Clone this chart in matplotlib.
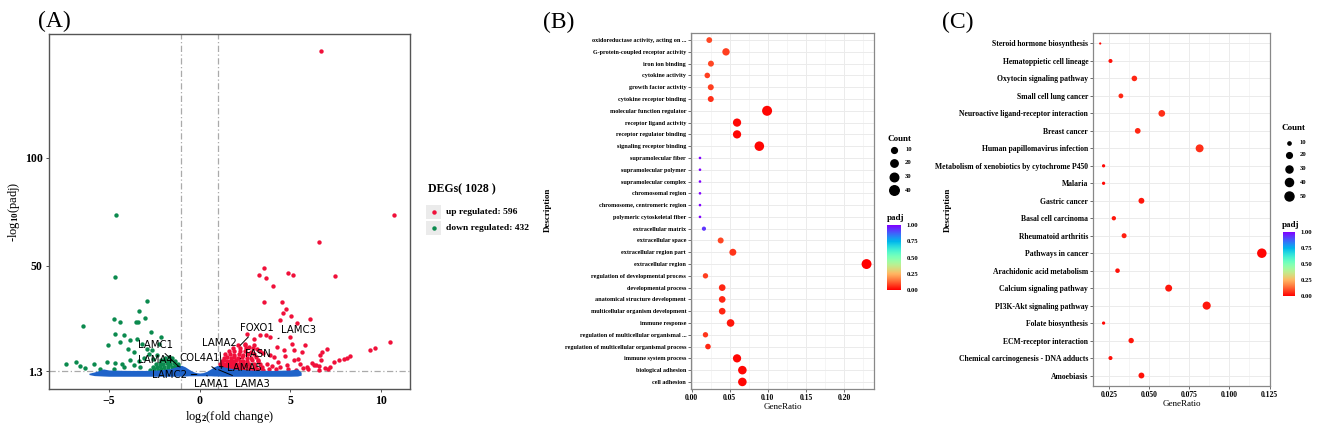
import matplotlib
matplotlib.use("Agg")
import matplotlib as mpl
import matplotlib.pyplot as plt
from matplotlib.colors import Normalize
from matplotlib.patches import Rectangle

plt.rcParams["font.family"] = "serif"
plt.rcParams["font.serif"] = ["Liberation Serif", "DejaVu Serif"]
plt.rcParams["font.weight"] = "bold"
plt.rcParams["mathtext.fontset"] = "custom"
plt.rcParams["mathtext.rm"] = "Liberation Serif:bold"
plt.rcParams["mathtext.default"] = "rm"

# ---------------- (A) volcano data ----------------
up_x = [6.71, 10.74, 6.56, 7.48, 3.55, 3.29, 3.66, 4.85, 5.15, 4.03, 3.57, 4.52, 4.78, 4.60,
        5.06, 4.45, 6.08, 5.35, 10.51, 9.69, 9.38, 8.31, 8.13, 7.94, 7.67, 7.39, 7.02, 6.75,
        6.65, 6.71, 6.29, 6.56, 5.83, 5.64, 5.18, 5.00, 5.09, 4.63, 3.90, 3.68, 4.26, 4.08,
        5.18, 5.55, 5.92, 4.82, 4.45, 3.35, 2.98, 2.61, 3.16, 2.70, 2.52,
        6.90, 7.20, 6.00, 5.70, 5.30, 4.90, 4.20, 4.00, 3.70, 3.40, 4.30, 3.90, 3.50, 3.20,
        4.70, 5.40, 6.20, 6.40, 7.10, 6.60,
        1.05, 1.22, 1.36, 1.52, 1.63, 1.81, 1.96, 2.12, 2.28, 2.49, 2.72, 2.93, 3.18, 3.52, 3.81,
        1.10, 1.27, 1.41, 1.56, 1.72, 1.86, 2.03, 2.17, 2.36, 2.57, 2.79, 3.06, 3.42,
        1.14, 1.31, 1.44, 1.62, 1.77, 1.92, 2.06, 2.24, 2.46, 2.71, 3.02, 3.31,
        1.21, 1.36, 1.52, 1.69, 1.84, 2.01, 2.21, 2.42, 2.63, 2.91, 3.22,
        1.32, 1.49, 1.71, 1.88, 2.11, 2.34, 2.61, 2.86, 3.12,
        1.42, 1.66, 1.91, 2.16, 2.41, 2.69, 3.01,
        1.61, 1.92, 2.21, 2.52, 2.83, 3.31,
        1.82, 2.23, 2.56, 2.92, 2.12, 2.48, 3.02]
up_y = [149.4, 73.5, 61.2, 45.1, 49.0, 45.6, 44.5, 46.8, 45.6, 40.6, 33.4, 33.1, 30.2, 28.2,
        26.6, 25.1, 25.4, 23.5, 14.7, 12.0, 11.2, 8.2, 7.5, 7.0, 6.2, 5.5, 11.3, 10.1,
        8.6, 6.2, 3.9, 3.5, 13.2, 10.1, 10.9, 17.3, 14.0, 10.9, 17.0, 17.8, 12.4, 7.8,
        6.2, 4.7, 3.1, 3.9, 3.2, 17.8, 16.3, 18.6, 11.6, 12.4, 14.0,
        2.6, 3.0, 2.2, 2.8, 2.0, 2.4, 2.1, 3.5, 4.4, 2.7, 5.6, 8.9, 9.8, 6.6,
        8.1, 6.9, 5.2, 4.3, 2.1, 1.9,
        2.0, 2.2, 1.9, 2.1, 2.3, 1.8, 2.2, 2.0, 2.1, 1.9, 2.3, 2.0, 2.2, 1.9, 2.1,
        3.3, 3.5, 3.2, 3.4, 3.1, 3.6, 3.3, 3.4, 3.2, 3.5, 3.3, 3.1, 3.4,
        4.6, 4.8, 4.5, 4.7, 4.4, 4.9, 4.6, 4.7, 4.5, 4.8, 4.6, 4.4,
        6.0, 6.2, 5.9, 6.1, 5.8, 6.3, 6.0, 6.1, 5.9, 6.2, 6.0,
        7.5, 7.7, 7.4, 7.6, 7.3, 7.8, 7.5, 7.4, 7.6,
        9.0, 9.2, 8.9, 9.1, 8.8, 9.2, 9.0,
        10.5, 10.7, 10.4, 10.6, 10.3, 10.5,
        12.0, 12.2, 11.8, 12.1, 13.5, 13.4, 13.6]

down_x = [-4.60, -4.67, -2.92, -3.35, -4.72, -4.39, -3.49, -3.38, -3.01, -6.42, -2.67, -4.65,
          -4.15, -3.47, -2.10, -4.38, -3.82, -5.07, -3.18, -3.64, -3.92, -2.90, -2.26, -2.63,
          -5.11, -5.81, -6.80, -7.37, -6.58, -6.31, -4.65, -4.28, -3.82, -3.36, -3.09, -3.64,
          -4.19, -4.74, -5.48, -3.27, -2.81, -2.54, -2.35,
          -2.71, -2.52, -2.31, -2.12, -1.91, -1.72, -1.49, -1.31, -1.12,
          -2.56, -2.34, -2.16, -1.94, -1.76, -1.54, -1.36, -1.15,
          -2.41, -2.19, -2.01, -1.79, -1.61, -1.39, -1.21,
          -2.14, -1.96, -1.74, -1.56, -1.36,
          -1.92, -1.69, -1.51]
down_y = [73.7, 44.7, 33.7, 28.9, 25.4, 23.8, 23.8, 23.8, 26.0, 22.4, 19.2, 18.3,
          17.8, 16.3, 17.0, 14.7, 15.5, 13.2, 14.0, 10.1, 11.6, 11.6, 14.0, 10.9,
          5.5, 4.7, 5.5, 4.7, 3.5, 2.8, 5.0, 4.7, 6.2, 5.9, 7.5, 3.9,
          3.2, 2.4, 2.4, 3.2, 9.3, 7.0, 8.6,
          2.0, 2.2, 1.9, 2.1, 2.0, 2.2, 1.9, 2.1, 2.0,
          3.4, 3.3, 3.5, 3.4, 3.6, 3.3, 3.5, 3.4,
          4.8, 4.9, 4.7, 5.0, 4.8, 4.9, 4.7,
          6.2, 6.3, 6.1, 6.3, 6.0,
          7.4, 7.6, 7.3]

ns_x = [-6.1, -5.8, -5.3, -5.0, -4.0, -3.0, -2.2, -1.6, -1.2, -1.0, -0.8, -0.6, -0.4, -0.2,
        0.0, 0.2, 0.4, 0.6, 0.8, 1.0, 1.2, 2.0, 3.0, 4.0, 5.0, 5.4, 5.6]
ns_top = [0.3, 0.9, 2.3, 1.8, 1.6, 1.6, 1.8, 2.5, 3.5, 4.0, 3.3, 2.2, 1.2, 0.6,
          0.4, 0.6, 1.2, 2.2, 3.3, 4.0, 3.5, 2.2, 1.7, 1.6, 1.8, 2.3, 0.8]
ns_bottom = [-0.3, -0.8, -1.0, -1.1, -1.1, -1.1, -1.1, -1.1, -1.1, -1.0, -1.0, -0.9, -0.9, -0.9,
             -0.9, -0.9, -0.9, -0.9, -1.0, -1.0, -1.1, -1.1, -1.1, -1.1, -1.1, -1.0, -0.6]

genes = ["LAMC1", "LAMA4", "COL4A1", "LAMA2", "FOXO1", "LAMC3", "FASN", "LAMA5", "LAMC2", "LAMA1", "LAMA3"]
gene_text_x = [-2.41, -2.41, 0.0, 1.10, 3.16, 5.46, 3.20, 2.48, -1.65, 0.64, 2.92]
gene_text_y = [13.5, 6.2, 7.3, 14.3, 21.2, 20.4, 9.3, 2.7, -0.7, -4.6, -4.6]
gene_pt_x = [-1.16, -1.07, 0.9, 1.2, 2.24, 4.32, 2.24, 1.1, -0.15, 0.40, 1.05]
gene_pt_y = [3.5, 3.2, 2.0, 2.5, 13.2, 16.3, 7.0, 3.4, -0.24, -0.7, 1.9]

# ---------------- (B) GO enrichment ----------------
go_terms = ["oxidoreductase activity, acting on ...", "G-protein-coupled receptor activity",
            "iron ion binding", "cytokine activity", "growth factor activity",
            "cytokine receptor binding", "molecular function regulator", "receptor ligand activity",
            "receptor regulator binding", "signaling receptor binding", "supramolecular fiber",
            "supramolecular polymer", "supramolecular complex", "chromosomal region",
            "chromosome, centromeric region", "polymeric cytoskeletal fiber", "extracellular matrix",
            "extracellular space", "extracellular region part", "extracellular region",
            "regulation of developmental process", "developmental process",
            "anatomical structure development", "multicellular organism development",
            "immune response", "regulation of multicellular organismal ...",
            "regulation of multicellular organismal process", "immune system process",
            "biological adhesion", "cell adhesion"]
go_ratio = [0.023, 0.045, 0.0252, 0.0204, 0.025, 0.025, 0.099, 0.0595, 0.0595, 0.0888,
            0.0108, 0.0108, 0.0108, 0.0108, 0.0108, 0.0108, 0.016, 0.038, 0.054, 0.2297,
            0.018, 0.040, 0.040, 0.040, 0.051, 0.018, 0.0213, 0.0595, 0.0665, 0.0665]
go_count = [10, 20, 11, 9, 11, 11, 45, 27, 27, 40,
            2, 2, 2, 2, 2, 2, 4, 11, 17, 44,
            8, 15, 15, 15, 22, 8, 9, 27, 30, 30]
go_padj = [0.09, 0.08, 0.09, 0.08, 0.08, 0.06, 0.01, 0.01, 0.01, 0.01,
           1.0, 1.0, 1.0, 1.0, 1.0, 1.0, 0.93, 0.09, 0.07, 0.0,
           0.08, 0.05, 0.05, 0.05, 0.03, 0.07, 0.05, 0.01, 0.01, 0.01]

# ---------------- (C) KEGG enrichment ----------------
kegg_terms = ["Steroid hormone biosynthesis", "Hematoppietic cell lineage", "Oxytocin signaling pathway",
              "Small cell lung cancer", "Neuroactive ligand-receptor interaction", "Breast cancer",
              "Human papillomavirus infection", "Metabolism of xenobiotics by cytochrome P450",
              "Malaria", "Gastric cancer", "Basal cell carcinoma", "Rheumatoid arthritis",
              "Pathways in cancer", "Arachidonic acid metabolism", "Calcium signaling pathway",
              "PI3K-Akt signaling pathway", "Folate biosynthesis", "ECM-receptor interaction",
              "Chemical carcinogenesis - DNA adducts", "Amoebiasis"]
kegg_ratio = [0.0194, 0.0258, 0.0407, 0.0323, 0.0578, 0.0428, 0.0814, 0.0215, 0.0215, 0.0451,
              0.0279, 0.0343, 0.1202, 0.0302, 0.0621, 0.0858, 0.0215, 0.0387, 0.0258, 0.0451]
kegg_count = [9, 12, 19, 15, 27, 20, 38, 10, 10, 21, 13, 16, 56, 14, 29, 40, 10, 18, 12, 21]
kegg_padj = [0.01, 0.02, 0.05, 0.05, 0.06, 0.05, 0.06, 0.01, 0.01, 0.03,
             0.03, 0.04, 0.01, 0.02, 0.03, 0.03, 0.01, 0.03, 0.02, 0.02]

W, H = 1325, 429


def rect(l, t, r, b):
    return [l / W, 1 - b / H, (r - l) / W, (b - t) / H]


def fx(x):
    return x / W


def fy(y):
    return 1 - y / H


def size_map(counts, cmin, cmax, dmin, dmax):
    out = []
    for c in counts:
        t = max(0.0, (c - cmin) / (cmax - cmin)) ** 0.5
        d = dmin + t * (dmax - dmin)
        out.append((d * 0.72) ** 2)
    return out


fig = plt.figure(figsize=(13.25, 4.29), dpi=100)

# ---------------- panel A ----------------
axA = fig.add_axes(rect(49, 34, 410, 389))
axA.scatter(down_x, down_y, s=10, color="#0B8A4E", lw=0, zorder=2)
axA.scatter(up_x, up_y, s=10, color="#F0103A", lw=0, zorder=2)
axA.fill_between(ns_x, ns_bottom, ns_top, color="#1F63C9", lw=0, zorder=3)
for xv in (-1, 1):
    axA.axvline(xv, color="#AAAAAA", lw=0.9, ls=(0, (5, 2, 1, 2)), zorder=1)
axA.axhline(1.3, color="#AAAAAA", lw=0.9, ls=(0, (5, 2, 1, 2)), zorder=1)
for g, tx, ty, px, py in zip(genes, gene_text_x, gene_text_y, gene_pt_x, gene_pt_y):
    axA.annotate(g, xy=(px, py), xytext=(tx, ty), ha="center", va="center",
                 fontsize=7.3, family="DejaVu Sans", fontweight="normal", zorder=5,
                 arrowprops=dict(arrowstyle="-", lw=0.7, color="black", shrinkA=1, shrinkB=0))
axA.set_xlim(-8.3, 11.6)
axA.set_ylim(-7.0, 157.4)
axA.set_xticks([-5, 0, 5, 10])
axA.set_yticks([1.3, 50, 100])
axA.set_yticklabels(["1.3", "50", "100"])
axA.tick_params(labelsize=8.5, length=2.5, width=0.6, color="#333333", pad=2)
for sp in axA.spines.values():
    sp.set_color("#555555")
    sp.set_linewidth(1.0)
axA.set_xlabel("log$_2$(fold change)", fontsize=9, labelpad=1)
axA.set_ylabel("-log$_{10}$(padj)", fontsize=9, labelpad=2)
fig.text(fx(54), fy(21), "(A)", fontsize=17, fontweight="normal", ha="center", va="center")

# legend A
fig.text(fx(428), fy(189), "DEGs( 1028 )", fontsize=8.5, ha="left", va="center")
for yy, col, lab in [(212, "#F0103A", "up regulated: 596"), (228, "#0B8A4E", "down regulated: 432")]:
    fig.add_artist(Rectangle((fx(426), fy(yy + 7)), 15 / W, 14 / H, transform=fig.transFigure,
                             color="#EBEBEB", lw=0))
    fig.add_artist(plt.Line2D([fx(433.5)], [fy(yy)], marker="o", ms=2.2, color=col, lw=0,
                              transform=fig.transFigure))
    fig.text(fx(446), fy(yy), lab, fontsize=6.8, ha="left", va="center")


def dot_panel(ax, terms, ratio, count, padj, sizes, xlim, xticks, xlabels, minor, label_fs):
    n = len(terms)
    ypos = [n - 1 - i for i in range(n)]
    ax.scatter(ratio, ypos, s=sizes, c=padj, cmap="rainbow_r", vmin=0, vmax=1, lw=0, zorder=3)
    ax.set_xlim(*xlim)
    ax.set_ylim(-0.6, n - 0.4)
    ax.set_yticks(ypos)
    ax.set_yticklabels(terms, fontsize=label_fs)
    ax.set_xticks(xticks)
    ax.set_xticklabels(xlabels, fontsize=5.5)
    ax.set_xticks(minor, minor=True)
    ax.grid(which="major", color="#EBEBEB", lw=0.7)
    ax.grid(which="minor", axis="x", color="#F2F2F2", lw=0.5)
    ax.set_axisbelow(True)
    ax.tick_params(which="minor", length=0)
    ax.tick_params(which="major", length=2, width=0.5, color="#333333", pad=1.5)
    for sp in ax.spines.values():
        sp.set_color("#888888")
        sp.set_linewidth(0.9)
    ax.set_xlabel("GeneRatio", fontsize=6.5, labelpad=1)


# ---------------- panel B ----------------
axB = fig.add_axes(rect(691, 33, 874, 389))
sizeB = size_map(go_count, 2, 45, 2.6, 10.0)
dot_panel(axB, go_terms, go_ratio, go_count, go_padj, sizeB, (-0.001, 0.2395),
          [0, 0.05, 0.10, 0.15, 0.20], ["0.00", "0.05", "0.10", "0.15", "0.20"],
          [0.025, 0.075, 0.125, 0.175, 0.225], 4.4)
fig.text(fx(548), fy(210), "Description", fontsize=6.5, rotation=90, ha="center", va="center")
fig.text(fx(559), fy(22), "(B)", fontsize=17, fontweight="normal", ha="center", va="center")

# ---------------- panel C ----------------
axC = fig.add_axes(rect(1093, 33, 1270, 386))
sizeC = size_map(kegg_count, 9, 56, 2.2, 9.5)
dot_panel(axC, kegg_terms, kegg_ratio, kegg_count, kegg_padj, sizeC, (0.0149, 0.1253),
          [0.025, 0.05, 0.075, 0.10, 0.125], ["0.025", "0.050", "0.075", "0.100", "0.125"],
          [0.0375, 0.0625, 0.0875, 0.1125], 5.5)
fig.text(fx(948), fy(210), "Description", fontsize=6.5, rotation=90, ha="center", va="center")
fig.text(fx(958), fy(22), "(C)", fontsize=17, fontweight="normal", ha="center", va="center")


def side_legend(x0, title_y, levels, circ_y, sizes, pad_y, bar):
    fig.text(fx(x0), fy(title_y), "Count", fontsize=6.5, ha="left", va="center")
    for lv, cy, s in zip(levels, circ_y, sizes):
        fig.add_artist(plt.Line2D([fx(x0 + 7)], [fy(cy)], marker="o", ms=s ** 0.5, color="black",
                                  lw=0, transform=fig.transFigure))
        fig.text(fx(x0 + 18), fy(cy), str(lv), fontsize=4.8, ha="left", va="center")
    fig.text(fx(x0), fy(pad_y), "padj", fontsize=6.5, ha="left", va="center")
    cax = fig.add_axes(rect(*bar))
    cb = mpl.colorbar.ColorbarBase(cax, cmap="rainbow_r", norm=Normalize(0, 1))
    cb.outline.set_visible(False)
    cb.set_ticks([0, 0.25, 0.5, 0.75, 1.0])
    cb.set_ticklabels(["0.00", "0.25", "0.50", "0.75", "1.00"])
    cax.tick_params(labelsize=4.8, length=2, color="white", pad=2)


side_legend(887, 139, [10, 20, 30, 40], [150, 163, 177, 190],
            size_map([10, 20, 30, 40], 2, 45, 2.6, 10.0), 218, (887, 225, 901, 290))
side_legend(1282, 128, [10, 20, 30, 40, 50], [143, 155, 169, 182, 196],
            size_map([10, 20, 30, 40, 50], 9, 56, 2.2, 9.5), 225, (1283, 232, 1295, 296))

fig.savefig("out.png", dpi=100)
